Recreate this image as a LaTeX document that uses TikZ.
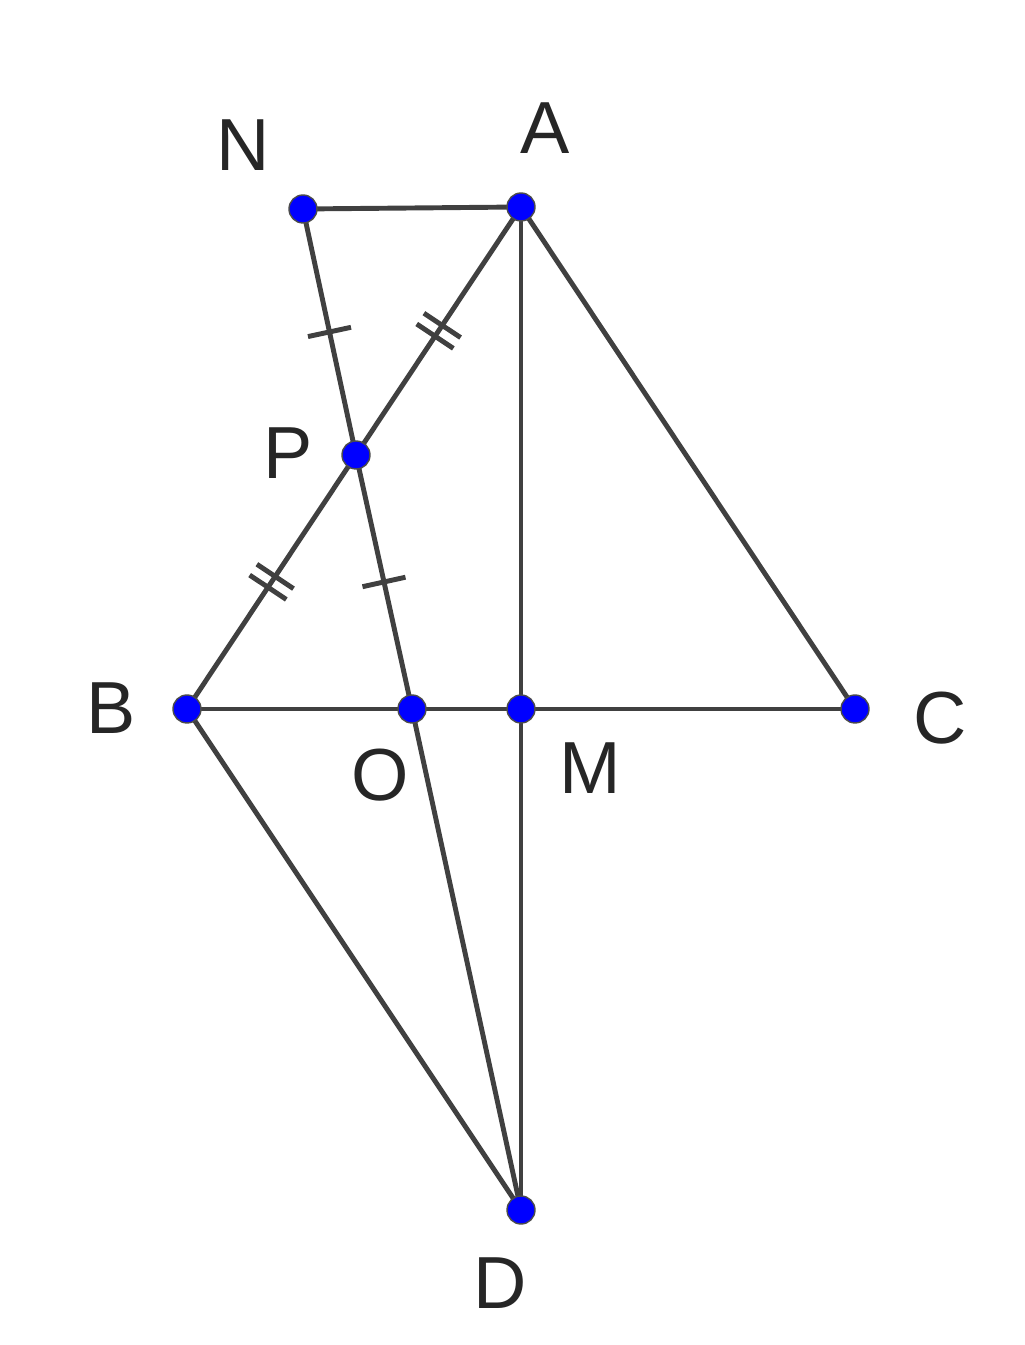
\documentclass[tikz,border=0pt]{standalone}
\usepackage{fontspec}
\setmainfont{Liberation Sans}
\usetikzlibrary{decorations.markings}
\definecolor{segcol}{HTML}{404040}
\tikzset{
  seg/.style={draw=segcol, line width=1.4pt},
  dot/.style={circle, fill=blue, draw=black!70, line width=0.4pt, inner sep=0pt, minimum size=0.28cm},
  lbl/.style={font=\fontsize{21}{25}\selectfont, text=black!85},
  onetick/.style={postaction={decorate, decoration={markings,
      mark=at position 0.5 with {\draw[segcol, line width=1.4pt] (0,-0.22) -- (0,0.22);}}}},
  twotick/.style={postaction={decorate, decoration={markings,
      mark=at position 0.5 with {\draw[segcol, line width=1.4pt] (-0.065,-0.22) -- (-0.065,0.22) (0.065,-0.22) -- (0.065,0.22);}}}}
}
\begin{document}
\begin{tikzpicture}
    \useasboundingbox (0,0) rectangle (10.24,13.45);
    % Points
    \coordinate (A) at (5.21, 11.38);
    \coordinate (N) at (3.03, 11.36);
    \coordinate (P) at (3.56, 8.90);
    \coordinate (B) at (1.87, 6.36);
    \coordinate (O) at (4.12, 6.36);
    \coordinate (M) at (5.21, 6.36);
    \coordinate (C) at (8.55, 6.36);
    \coordinate (D) at (5.21, 1.35);

    % Segments
    \draw[seg] (N) -- (A);
    \draw[seg] (A) -- (C);
    \draw[seg] (B) -- (C);
    \draw[seg] (A) -- (D);
    \draw[seg] (B) -- (D);
    \draw[seg] (O) -- (D);
    \draw[seg, onetick] (N) -- (P);
    \draw[seg, onetick] (P) -- (O);
    \draw[seg, twotick] (A) -- (P);
    \draw[seg, twotick] (P) -- (B);

    % Dots
    \foreach \p in {A, N, P, B, O, M, C, D}
      \node[dot] at (\p) {};

    % Labels
    \node[lbl] (labN) at (2.43, 12.00) {N};
    \node[lbl] (labA) at (5.45, 12.17) {A};
    \node[lbl] (labP) at (2.88, 8.92) {P};
    \node[lbl] (labB) at (1.11, 6.37) {B};
    \node[lbl] (labC) at (9.40, 6.27) {C};
    \node[lbl] (labO) at (3.80, 5.70) {O};
    \node[lbl] (labM) at (5.90, 5.77) {M};
    \node[lbl] (labD) at (5.00, 0.62) {D};
\end{tikzpicture}
\end{document}
